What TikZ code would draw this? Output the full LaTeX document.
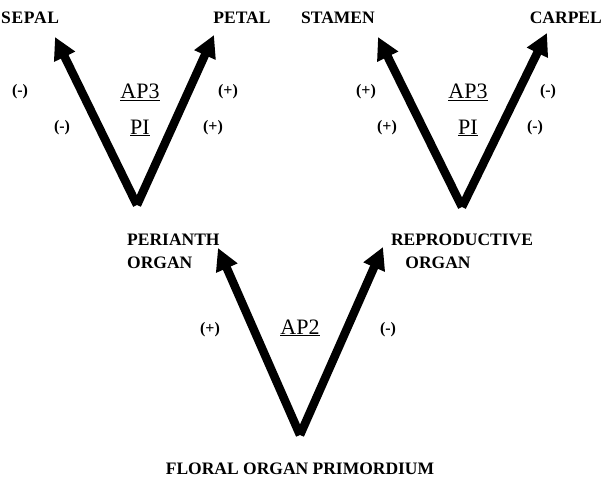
\documentclass[tikz,border=0pt]{standalone}
\usepackage{fontspec}
\setmainfont{Liberation Serif}
\usetikzlibrary{arrows.meta}
\tikzset{
  bigarrow/.style={line width=8.5pt, line cap=butt, line join=miter, -{Triangle[length=22pt,width=22pt]}},
  organ/.style={font=\fontsize{17.5}{19}\selectfont\bfseries, inner sep=0pt},
  sign/.style={font=\fontsize{16}{18}\selectfont\bfseries, inner sep=0pt},
  gene/.style={font=\fontsize{22}{24}\selectfont, inner sep=0pt},
}
\begin{document}
\begin{tikzpicture}[x=1pt,y=-1pt]
\useasboundingbox (0,0) rectangle (603,484);
% vertices and tips
\coordinate (v1) at (137,205);
\coordinate (t1a) at (55,37);
\coordinate (t1b) at (214,35);
\coordinate (v2) at (462,207);
\coordinate (t2a) at (378,37);
\coordinate (t2b) at (547,33);
\coordinate (v3) at (300,435);
\coordinate (t3a) at (218,248);
\coordinate (t3b) at (383,247);
\draw[bigarrow] (v1) -- (t1a);
\draw[bigarrow] (v1) -- (t1b);
\draw[bigarrow] (v2) -- (t2a);
\draw[bigarrow] (v2) -- (t2b);
\draw[bigarrow] (v3) -- (t3a);
\draw[bigarrow] (v3) -- (t3b);
% organ labels
\node[organ, anchor=west] (sepal) at (1,18) {\addfontfeature{LetterSpace=4}SEPAL};
\node[organ] (petal) at (242,18) {PETAL};
\node[organ] (stamen) at (338,18) {STAMEN};
\node[organ, anchor=east] (carpel) at (602,18) {CARPEL};
\node[organ, anchor=west] (per1) at (127,240) {PERIANTH};
\node[organ, anchor=west] (per2) at (127,263) {ORGAN};
\node[organ] (rep1) at (462,240) {REPRODUCTIVE};
\node[organ] (rep2) at (438,263) {ORGAN};
\node[organ] (flo) at (300,469) {FLORAL ORGAN PRIMORDIUM};
% genes
\node[gene] (ap3a) at (140,92) {\underline{AP3}};
\node[gene] (pia) at (140,128) {\underline{PI}};
\node[gene] (ap3b) at (468,92) {\underline{AP3}};
\node[gene] (pib) at (468,128) {\underline{PI}};
\node[gene] (ap2) at (300,328) {\underline{AP2}};
% signs
\node[sign] (s1) at (20,92) {(-)};
\node[sign] (s2) at (62,128) {(-)};
\node[sign] (s3) at (228,92) {(+)};
\node[sign] (s4) at (213,128) {(+)};
\node[sign] (s5) at (366,92) {(+)};
\node[sign] (s6) at (387,128) {(+)};
\node[sign] (s7) at (548,92) {(-)};
\node[sign] (s8) at (535,128) {(-)};
\node[sign] (s9) at (210,330) {(+)};
\node[sign] (s10) at (388,330) {(-)};
\end{tikzpicture}
\end{document}
